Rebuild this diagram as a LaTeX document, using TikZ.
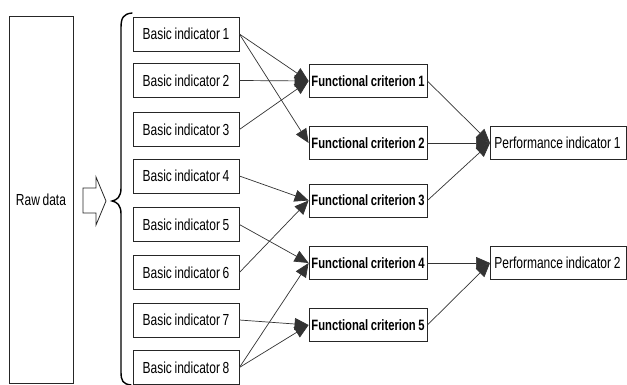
\documentclass[tikz,border=0pt]{standalone}
\usepackage{fontspec}
\setmainfont{Liberation Sans}[FakeStretch=0.75,WordSpace=0.8]
\usetikzlibrary{arrows.meta}
\begin{document}
\begin{tikzpicture}[x=1pt,y=-1pt,
  box/.style={draw=black!85,line width=0.8pt,inner sep=0pt,font=\fontsize{16}{18}\selectfont},
  basic/.style={box,minimum width=106pt,minimum height=34pt},
  crit/.style={box,minimum width=118pt,minimum height=33pt,font=\fontsize{15}{17}\selectfont\bfseries},
  perf/.style={box,minimum height=33pt,inner xsep=4pt},
  link/.style={draw=black!80,line width=0.7pt,-{Triangle[length=14pt,width=12pt]}}]
\useasboundingbox (0,0) rectangle (627,385);
\fill[white] (0,0) rectangle (627,385);
% source data
\node[box,minimum width=64pt,minimum height=367pt] (raw) at (41,199.5) {Raw data};
% block arrow into the brace
\draw[black!85,line width=0.8pt] (83,188) -- (96,188) -- (96,177) -- (106,201)
  -- (96,225) -- (96,213) -- (83,213) -- cycle;
% curly brace grouping the basic indicators
\draw[line width=1.4pt,line cap=round] (132,13) .. controls (123,14) and (121,18) .. (121,28)
  -- (121,188) .. controls (121,197) and (117,200) .. (112,201)
  .. controls (117,202) and (121,205) .. (121,214)
  -- (121,372) .. controls (121,381) and (123,384) .. (131,385);
% basic indicators
\node[basic] (b1) at (186,34) {Basic indicator 1};
\node[basic] (b2) at (186,80.5) {Basic indicator 2};
\node[basic] (b3) at (186,129.5) {Basic indicator 3};
\node[basic] (b4) at (186,176) {Basic indicator 4};
\node[basic] (b5) at (186,224.5) {Basic indicator 5};
\node[basic] (b6) at (186,272.5) {Basic indicator 6};
\node[basic] (b7) at (186,320) {Basic indicator 7};
\node[basic] (b8) at (186,367.5) {Basic indicator 8};
% functional criteria
\node[crit] (f1) at (368,81) {Functional criterion 1};
\node[crit] (f2) at (368,143) {Functional criterion 2};
\node[crit] (f3) at (368,200.5) {Functional criterion 3};
\node[crit] (f4) at (368,263) {Functional criterion 4};
\node[crit] (f5) at (368,325) {Functional criterion 5};
% performance indicators
\node[perf,anchor=west] (p1) at (490,143) {\makebox[128pt][l]{Performance indicator 1}};
\node[perf,anchor=west] (p2) at (490,263) {\makebox[128pt][l]{Performance indicator 2}};
% basic -> functional
\draw[link] (b1.east) -- (f1.west);
\draw[link] (b2.east) -- (f1.west);
\draw[link] (b3.east) -- (f1.west);
\draw[link] (b1.east) -- (f2.west);
\draw[link] (b4.east) -- (f3.west);
\draw[link] (b6.east) -- (f3.west);
\draw[link] (b5.east) -- (f4.west);
\draw[link] (b8.east) -- (f4.west);
\draw[link] (b7.east) -- (f5.west);
\draw[link] (b8.east) -- (f5.west);
% functional -> performance
\draw[link] (f1.east) -- (p1.west);
\draw[link] (f2.east) -- (p1.west);
\draw[link] (f3.east) -- (p1.west);
\draw[link] (f4.east) -- (p2.west);
\draw[link] (f5.east) -- (p2.west);
\end{tikzpicture}
\end{document}
